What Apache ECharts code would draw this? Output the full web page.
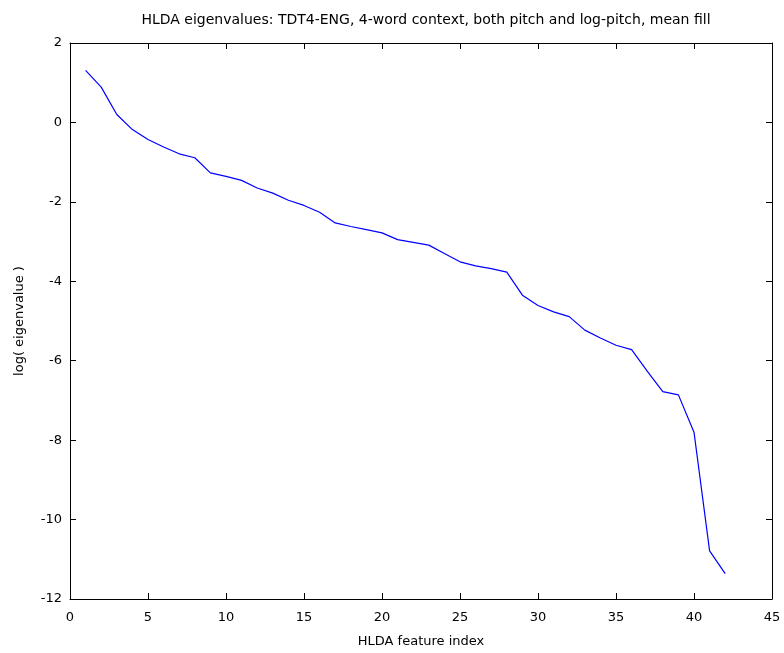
<!DOCTYPE html>
<html><head><meta charset="utf-8">
<script src="https://cdn.jsdelivr.net/npm/echarts@6/dist/echarts.min.js"></script>
<style>html,body{margin:0;padding:0;background:#fff}#c{width:784px;height:653px}</style>
</head><body><div id="c"></div>
<script>
var featureIndex = [1,2,3,4,5,6,7,8,9,10,11,12,13,14,15,16,17,18,19,20,21,22,23,24,25,26,27,28,29,30,31,32,33,34,35,36,37,38,39,40,41,42];
var logEigen = [1.31,0.89,0.20,-0.18,-0.43,-0.62,-0.79,-0.89,-1.27,-1.36,-1.46,-1.65,-1.78,-1.96,-2.09,-2.26,-2.53,-2.62,-2.70,-2.78,-2.95,-3.02,-3.09,-3.30,-3.51,-3.61,-3.68,-3.77,-4.35,-4.61,-4.77,-4.89,-5.23,-5.43,-5.61,-5.72,-6.26,-6.78,-6.86,-7.80,-10.79,-11.36];
var xTicks = {min:0, max:45, interval:5};
var yTicks = {min:-12, max:2, interval:2};
var titleText = 'HLDA eigenvalues: TDT4-ENG, 4-word context, both pitch and log-pitch, mean fill';
var xLabel = 'HLDA feature index';
var yLabel = 'log( eigenvalue )';

var font = 'DejaVu Sans, Verdana, sans-serif';
var chart = echarts.init(document.getElementById('c'));
var axisLine = {show:true, onZero:false, lineStyle:{color:'#000', width:1}};
var tick = {show:true, inside:true, length:6, lineStyle:{color:'#000'}};
var lbl = {color:'#000', fontSize:13, fontFamily:font};
chart.setOption({
  backgroundColor:'#fff',
  animation:false,
  title:{text:titleText, left:421, textAlign:'center', top:8, textStyle:{fontSize:14, fontWeight:'normal', color:'#000', fontFamily:font}},
  grid:{left:70, right:12, top:43, bottom:54},
  xAxis:[
    {type:'value', min:xTicks.min, max:xTicks.max, interval:xTicks.interval, position:'bottom',
     axisLine:axisLine, axisTick:tick, splitLine:{show:false}, axisLabel:Object.assign({margin:12},lbl),
     name:xLabel, nameLocation:'middle', nameGap:36, nameTextStyle:lbl},
    {type:'value', min:xTicks.min, max:xTicks.max, interval:xTicks.interval, position:'top',
     axisLine:axisLine, axisTick:tick, splitLine:{show:false}, axisLabel:{show:false}}
  ],
  yAxis:[
    {type:'value', min:yTicks.min, max:yTicks.max, interval:yTicks.interval, position:'left',
     axisLine:axisLine, axisTick:tick, splitLine:{show:false}, axisLabel:Object.assign({margin:8},lbl),
     name:yLabel, nameLocation:'middle', nameGap:44, nameRotate:90, nameTextStyle:lbl},
    {type:'value', min:yTicks.min, max:yTicks.max, interval:yTicks.interval, position:'right',
     axisLine:axisLine, axisTick:tick, splitLine:{show:false}, axisLabel:{show:false}}
  ],
  series:[{type:'line', data:featureIndex.map(function(x,i){return [x, logEigen[i]];}),
    showSymbol:false, symbol:'none', lineStyle:{color:'#0000ff', width:1.2}, xAxisIndex:0, yAxisIndex:0}]
});
</script></body></html>
